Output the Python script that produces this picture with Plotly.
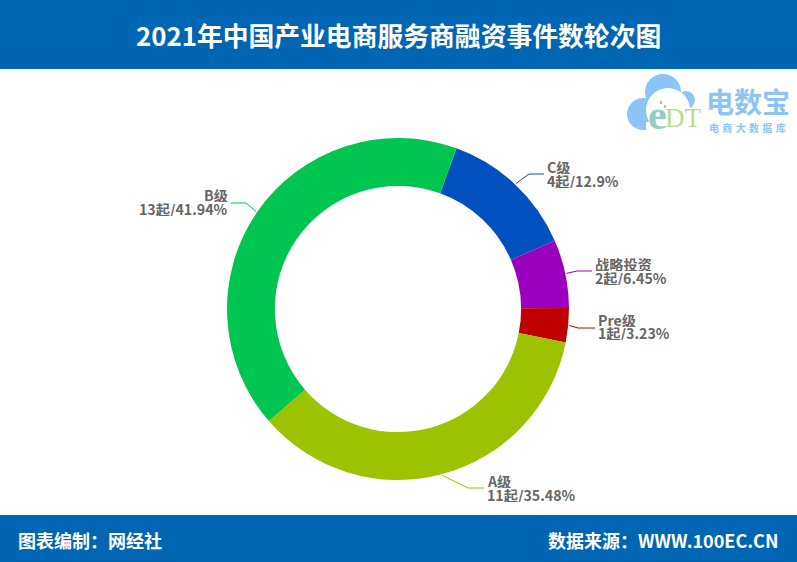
import math
import plotly.graph_objects as go

categories = ["C级", "战略投资", "Pre级", "A级", "B级"]
values = [4, 2, 1, 11, 13]
colors = ["#0050C0", "#9B00BE", "#C00000", "#9CC200", "#00C550"]
title = "2021年中国产业电商服务商融资事件数轮次图"
footer_left = "图表编制：网经社"
footer_right = "数据来源：WWW.100EC.CN"

W, H = 797, 562
CX, CY, R = 398, 309, 171
ROT = 20
BAND = "#0066B3"
FONT = "Noto Sans CJK SC"
LOGO = "#8CC4F6"
# label-line elbow (x, y), end of the horizontal run, and vertical centre of the two text rows
callouts = [
    dict(elbow=(529, 174), end=544, mid=174),
    dict(elbow=(577, 271), end=592, mid=271),
    dict(elbow=(578, 328), end=595, mid=326.5),
    dict(elbow=(468, 488), end=484, mid=488),
    dict(elbow=(246, 203), end=231, mid=202),
]


def px(x):
    return x / W


def py(y):
    return 1 - y / H


fig = go.Figure(go.Pie(
    labels=categories, values=values, sort=False, direction="clockwise",
    rotation=ROT, hole=0.72, textinfo="none", hoverinfo="label+value+percent",
    marker=dict(colors=colors, line=dict(width=0)),
    domain=dict(x=[px(CX - R), px(CX + R)], y=[py(CY + R), py(CY - R)]),
    showlegend=False,
))

shapes = [
    dict(type="rect", xref="paper", yref="paper", x0=0, x1=1, y0=py(69), y1=1, fillcolor=BAND, line_width=0),
    dict(type="rect", xref="paper", yref="paper", x0=0, x1=1, y0=0, y1=py(515), fillcolor=BAND, line_width=0),
]
annotations = []


def text(x, y, s, size, color, anchor="left", bold=True, family=FONT, height=None):
    a = dict(
        xref="paper", yref="paper", x=px(x), y=py(y), text=f"<b>{s}</b>" if bold else s,
        showarrow=False, xanchor=anchor, yanchor="middle",
        font=dict(family=family, size=size, color=color), borderpad=0, borderwidth=0,
    )
    if height:
        a["height"] = height
    annotations.append(a)


text(398, 34.5, title, 25.8, "white", "center")
text(18, 540, footer_left, 18, "white", "left")
text(778, 540, footer_right, 18, "white", "right")

total = sum(values)
cum = 0
for cat, v, c, co in zip(categories, values, colors, callouts):
    mid = math.radians(ROT + (cum + v / 2) / total * 360)
    cum += v
    x1, y1 = CX + (R + 1) * math.sin(mid), CY - (R + 1) * math.cos(mid)
    x2, y2 = co["elbow"]
    x3 = co["end"]
    side = 1 if x3 > x2 else -1
    shapes.append(dict(type="path", xref="paper", yref="paper",
                       path=f"M{px(x1)},{py(y1)} L{px(x2)},{py(y2)} L{px(x3)},{py(y2)}",
                       line=dict(color=c, width=1)))
    pct = f"{round(v / total * 100, 2):g}"
    tx = x3 + side * 3
    anchor = "left" if side > 0 else "right"
    text(tx, co["mid"] - 7, cat, 14.2, "#666666", anchor, height=14)
    text(tx, co["mid"] + 7, f"{v}起/{pct}%", 14.2, "#666666", anchor, height=14)


def circle(cx, cy, r, color):
    shapes.append(dict(type="circle", xref="paper", yref="paper", x0=px(cx - r), x1=px(cx + r),
                       y0=py(cy + r), y1=py(cy - r), fillcolor=color, line_width=0))


def rect(x0, y0, x1, y1, color):
    shapes.append(dict(type="rect", xref="paper", yref="paper", x0=px(x0), x1=px(x1),
                       y0=py(y1), y1=py(y0), fillcolor=color, line_width=0))


# logo
circle(663, 92, 18, LOGO)
circle(643, 114, 16, LOGO)
circle(686, 100, 9, LOGO)
circle(668, 110, 22, "white")
rect(646, 122, 700, 135, "white")
rect(660, 101, 662, 104, "#A6D45A")
rect(664, 105, 666, 108, "#A6D45A")
text(657, 115, "e", 42, "#8FD0C0", "center", bold=True, family="Liberation Serif")
text(683, 118, "DT", 27, "#B8DC90", "center", bold=False, family="Liberation Serif")
text(747.5, 101, "电数宝", 28, LOGO, "center")
text(747, 127, "电\u2004商\u2004大\u2004数\u2004据\u2004库", 10, LOGO, "center")

fig.update_layout(width=W, height=H, margin=dict(l=0, r=0, t=0, b=0), paper_bgcolor="white",
                  shapes=shapes, annotations=annotations)
fig.write_html("out.html", post_script="document.body.style.margin='0';document.body.style.overflow='hidden';",
               config={"displayModeBar": False})
